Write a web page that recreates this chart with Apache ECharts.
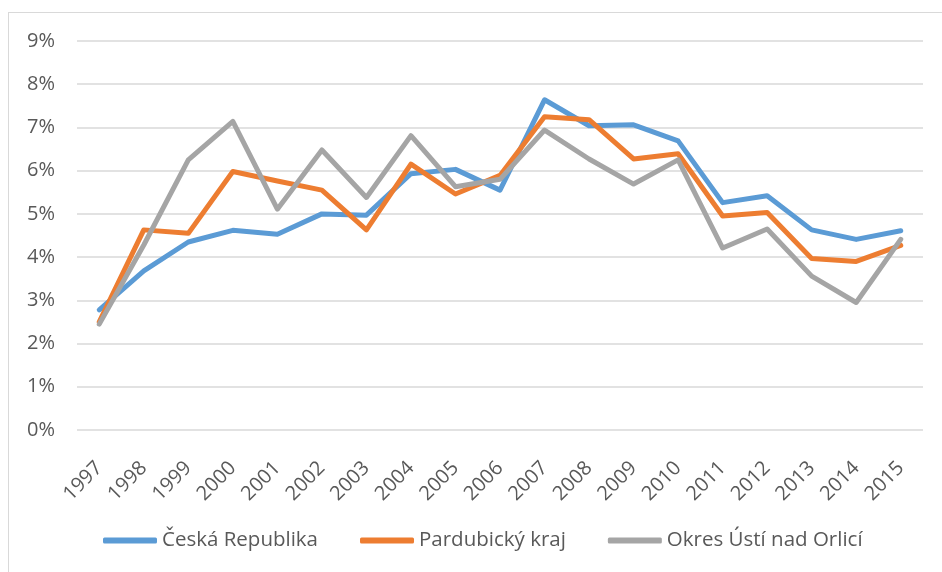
<!DOCTYPE html>
<html>
<head>
<meta charset="utf-8">
<script src="https://cdn.jsdelivr.net/npm/echarts@6/dist/echarts.min.js"></script>
<style>
html, body { margin: 0; padding: 0; background: #fff; }
#frame {
  position: absolute; left: 8px; top: 12px; width: 960px; height: 600px;
  border-left: 1px solid #d9d9d9; border-top: 1px solid #d9d9d9;
}
#chart { position: absolute; left: 0; top: 0; width: 942px; height: 572px; }
</style>
</head>
<body>
<div id="frame"></div>
<div id="chart"></div>
<script>
var years = ["1997","1998","1999","2000","2001","2002","2003","2004","2005","2006",
             "2007","2008","2009","2010","2011","2012","2013","2014","2015"];
var ceskaRepublika = [2.78, 3.68, 4.35, 4.62, 4.53, 5.0, 4.97, 5.93, 6.03, 5.55,
                      7.64, 7.04, 7.06, 6.69, 5.26, 5.42, 4.63, 4.41, 4.61];
var pardubickyKraj = [2.5, 4.63, 4.55, 5.98, 5.76, 5.55, 4.63, 6.15, 5.46, 5.89,
                      7.25, 7.18, 6.27, 6.39, 4.95, 5.03, 3.97, 3.9, 4.27];
var okresUsti = [2.45, 4.28, 6.25, 7.14, 5.11, 6.48, 5.38, 6.81, 5.63, 5.8,
                 6.94, 6.27, 5.69, 6.25, 4.21, 4.65, 3.56, 2.95, 4.41];
var seriesNames = ["Česká Republika", "Pardubický kraj", "Okres Ústí nad Orlicí"];
var colors = ["#5b9bd5", "#ed7d31", "#a5a5a5"];

var chart = echarts.init(document.getElementById("chart"));
var font = "Open Sans, Liberation Sans, sans-serif";

function line(name, data, color) {
  return {
    name: name,
    type: "line",
    data: data,
    symbol: "none",
    lineStyle: { color: color, width: 5, cap: "round", join: "round" },
    itemStyle: { color: color }
  };
}

chart.setOption({
  animation: false,
  color: colors,
  grid: { left: 77, right: 19, top: 41, bottom: 142, outerBoundsMode: "none" },
  xAxis: {
    type: "category",
    data: years,
    boundaryGap: true,
    axisLine: { show: false },
    axisTick: { show: false },
    axisLabel: {
      rotate: 45, margin: 35, color: "#595959",
      fontSize: 20, fontFamily: font
    }
  },
  yAxis: {
    type: "value",
    min: 0, max: 9, interval: 1,
    axisLine: { show: false },
    axisTick: { show: false },
    axisLabel: {
      margin: 22, color: "#595959", fontSize: 20, fontFamily: font,
      formatter: function (v) { return v + "%"; }
    },
    splitLine: { lineStyle: { color: "#d9d9d9", width: 1.5 } }
  },
  legend: {
    bottom: 16,
    left: 98,
    itemWidth: 54,
    itemHeight: 6,
    itemGap: 42,
    icon: "roundRect",
    textStyle: { color: "#595959", fontSize: 20.5, fontFamily: font },
    data: seriesNames
  },
  series: [
    line(seriesNames[0], ceskaRepublika, colors[0]),
    line(seriesNames[1], pardubickyKraj, colors[1]),
    line(seriesNames[2], okresUsti, colors[2])
  ]
});
</script>
</body>
</html>
